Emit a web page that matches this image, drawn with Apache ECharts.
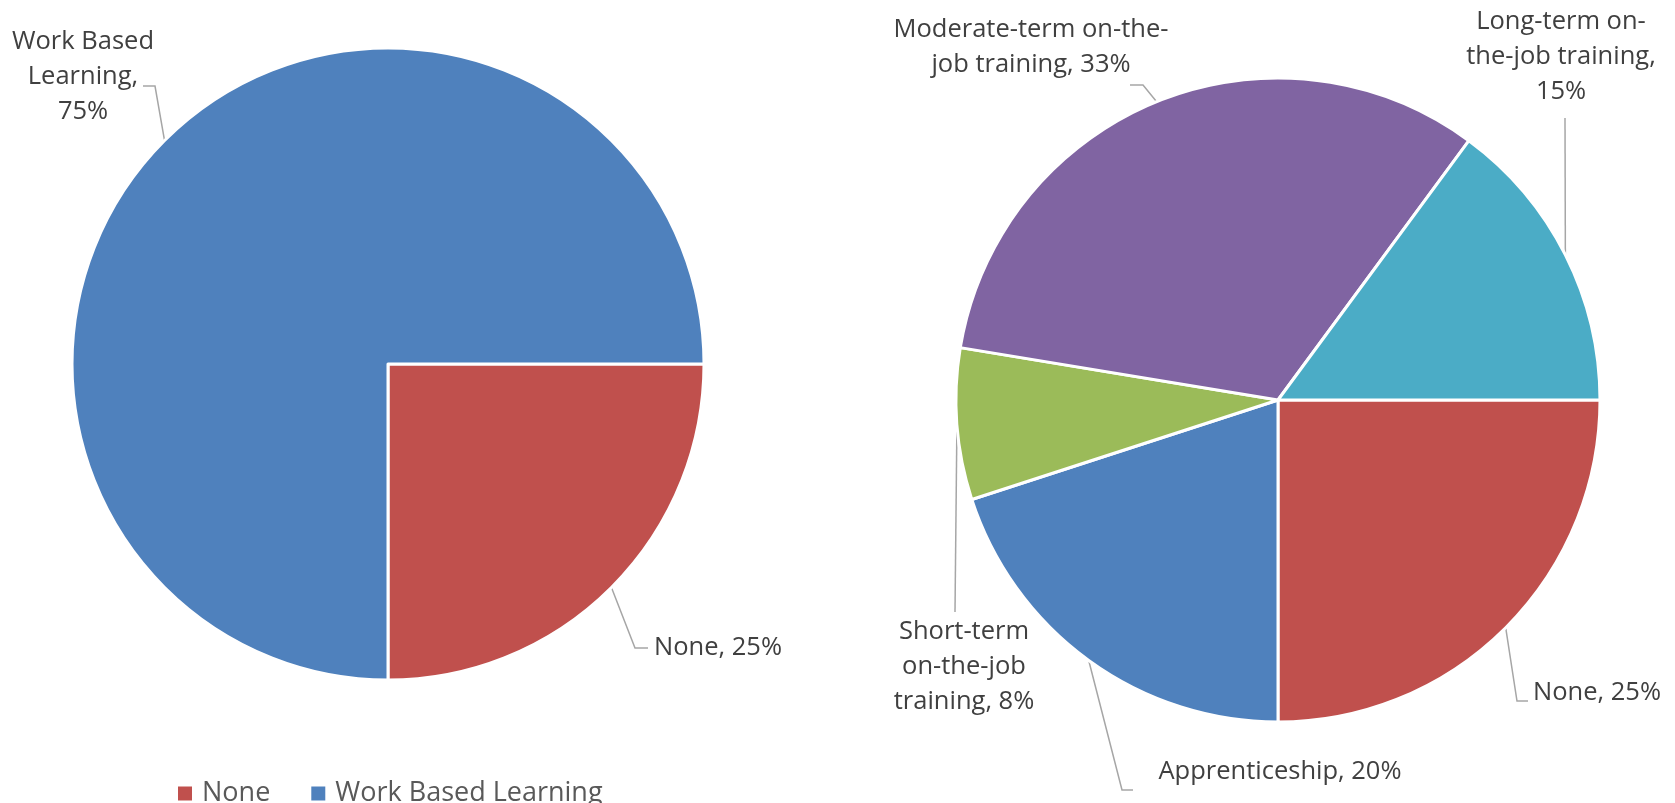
<!DOCTYPE html>
<html>
<head>
<meta charset="utf-8">
<script src="https://cdn.jsdelivr.net/npm/echarts@6/dist/echarts.min.js"></script>
<style>
  html, body { margin: 0; padding: 0; background: #fff; }
  #chart { width: 1675px; height: 803px; }
</style>
</head>
<body>
<div id="chart"></div>
<script>
// left pie: work based learning vs none
const leftNames = ['None', 'Work Based Learning'];
const leftValues = [25, 75];

// right pie: breakdown by training type (clockwise from 3 o'clock)
const rightNames = ['None', 'Apprenticeship', 'Short-term on-the-job training',
  'Moderate-term on-the-job training', 'Long-term on-the-job training'];
const rightValues = [25, 20, 7.6, 32.5, 14.9];

const colors = {
  'None': '#C0504D',
  'Work Based Learning': '#4F81BD',
  'Apprenticeship': '#4F81BD',
  'Short-term on-the-job training': '#9BBB59',
  'Moderate-term on-the-job training': '#8064A2',
  'Long-term on-the-job training': '#4BACC6',
};

// label placement, the way the original spreadsheet laid them out
const leftSpots = [
  { text: 'None, ', x: 718, y: 648, elbow: [635, 648], end: [648, 648] },
  { text: 'Work Based\nLearning,\n', x: 83, y: 77, elbow: [155, 86], end: [143, 86] },
];
const rightSpots = [
  { text: 'None, ', x: 1597, y: 693, elbow: [1517, 701], end: [1528, 701] },
  { text: 'Apprenticeship, ', x: 1280, y: 772, elbow: [1122, 790], end: [1133, 790] },
  { text: 'Short-term\non-the-job\ntraining, ', x: 964, y: 667, elbow: [955, 612], end: [955, 612] },
  { text: 'Moderate-term on-the-\njob training, ', x: 1031, y: 47, elbow: [1143, 85], end: [1130, 85] },
  { text: 'Long-term on-\nthe-job training,\n', x: 1561, y: 57, elbow: [1565, 118], end: [1565, 118] },
];

const FONT = '"Open Sans", "DejaVu Sans", sans-serif';

function makeData(names, values) {
  return names.map((n, i) => ({ name: n, value: values[i], itemStyle: { color: colors[n] } }));
}

function pieSeries(names, values, spots, center, radius) {
  return {
    type: 'pie',
    center: center,
    radius: radius,
    startAngle: 0,
    clockwise: true,
    avoidLabelOverlap: false,
    animation: false,
    itemStyle: { borderColor: '#fff', borderWidth: 3 },
    emphasis: { disabled: true },
    label: {
      show: true,
      position: 'outside',
      color: '#404040',
      fontFamily: FONT,
      fontSize: 25.5,
      lineHeight: 35,
      align: 'center',
      formatter: (p) => spots[p.dataIndex].text + Math.round(p.value) + '%',
    },
    labelLine: {
      show: true,
      lineStyle: { color: '#A6A6A6', width: 1.5 },
    },
    labelLayout: (params) => {
      const s = spots[params.dataIndex];
      const pts = params.labelLinePoints;
      const start = pts ? pts[0] : s.elbow;
      return {
        x: s.x,
        y: s.y,
        align: 'center',
        verticalAlign: 'middle',
        labelLinePoints: [start, s.elbow, s.end],
      };
    },
    data: makeData(names, values),
  };
}

const chart = echarts.init(document.getElementById('chart'));
chart.setOption({
  backgroundColor: '#fff',
  legend: {
    data: leftNames,
    left: 173,
    top: 775,
    icon: 'rect',
    itemWidth: 14,
    itemHeight: 14,
    itemGap: 41,
    itemStyle: { borderWidth: 0 },
    textStyle: { color: '#595959', fontFamily: FONT, fontSize: 27, padding: [0, 0, 0, 5] },
    selectedMode: false,
  },
  series: [
    pieSeries(leftNames, leftValues, leftSpots, [388, 364], 316),
    pieSeries(rightNames, rightValues, rightSpots, [1278, 400], 322),
  ],
});
</script>
</body>
</html>
